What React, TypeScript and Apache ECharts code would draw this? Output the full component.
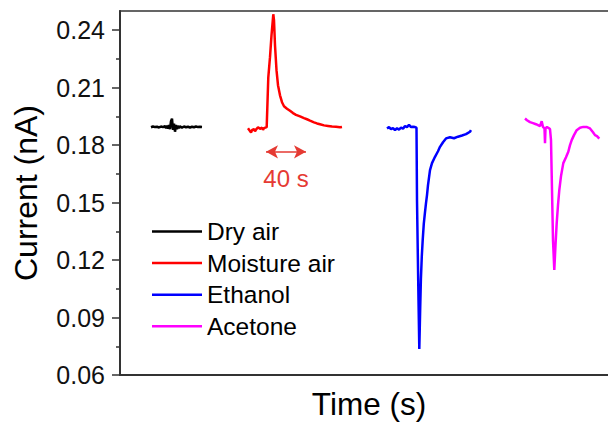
import React, { useEffect, useRef } from "react";
import * as echarts from "echarts";

const seriesNames = ["Dry air", "Moisture air", "Ethanol", "Acetone"];
const seriesColors = ["#000000", "#ff0000", "#0000ff", "#ff00ff"];

const yMajorTicks = [0.06, 0.09, 0.12, 0.15, 0.18, 0.21, 0.24];
const yMinorTicks = [0.075, 0.105, 0.135, 0.165, 0.195, 0.225];

const dryAir: [number, number][] = [
  [31, 0.1893], [33, 0.1897], [35, 0.1894], [37, 0.1896], [39, 0.1892], [41, 0.1897],
  [43, 0.1894], [45, 0.1899], [46, 0.1888], [47, 0.1902], [48, 0.1886], [49, 0.1905],
  [50, 0.1883], [51, 0.1925], [52, 0.1938], [53, 0.1880], [54, 0.1912], [55, 0.1870],
  [56, 0.1905], [57, 0.1884], [58, 0.1901], [59, 0.1889], [60, 0.1898], [62, 0.1891],
  [64, 0.1897], [66, 0.1893], [68, 0.1896], [70, 0.1892], [72, 0.1896], [74, 0.1893],
  [76, 0.1897], [78, 0.1894], [80, 0.1896], [82, 0.1895],
];

const moistureAir: [number, number][] = [
  [128, 0.1888], [130, 0.1873], [131, 0.1866], [132, 0.1878], [134, 0.1884], [135, 0.1872],
  [136, 0.1881], [138, 0.1893], [140, 0.1885], [142, 0.1891], [143, 0.1880], [144, 0.1889],
  [146.7, 0.1894], [148.3, 0.2154], [150, 0.2259], [151.5, 0.2373], [153.3, 0.2483],
  [154, 0.2452], [155, 0.2321], [156.5, 0.2191], [158, 0.2113], [160, 0.2060], [162, 0.2024],
  [164, 0.2003], [167, 0.1990], [170, 0.1979], [173, 0.1967], [176, 0.1958], [180, 0.1950],
  [184, 0.1941], [187, 0.1935], [190, 0.1928], [194, 0.1919], [197, 0.1913], [200, 0.1909],
  [204, 0.1903], [208, 0.1900], [212, 0.1897], [216, 0.1896], [220, 0.1893], [222, 0.1895],
];

const ethanol: [number, number][] = [
  [267, 0.1887], [269, 0.1894], [271, 0.1883], [273, 0.1889], [275, 0.1878], [277, 0.1888],
  [279, 0.1881], [281, 0.1891], [283, 0.1886], [285, 0.1899], [287, 0.1894], [289, 0.1906],
  [291, 0.1894], [293, 0.1896], [295, 0.1894], [296.5, 0.1891], [297, 0.1513], [298.5, 0.0991],
  [299.3, 0.0736], [300.2, 0.0950], [300.9, 0.1100], [301.8, 0.1220], [302.7, 0.1304],
  [303.8, 0.1390], [305, 0.1450], [306, 0.1497], [307, 0.1539], [308, 0.1591], [310, 0.1669],
  [312, 0.1706], [315, 0.1739], [318, 0.1768], [320, 0.1791], [323, 0.1815], [326, 0.1835],
  [330, 0.1841], [334, 0.1836], [338, 0.1844], [342, 0.1850], [346, 0.1857], [350, 0.1870],
  [351, 0.1878],
];

const acetone: [number, number][] = [
  [405, 0.1939], [407, 0.1930], [410, 0.1920], [413, 0.1915], [416, 0.1909], [418, 0.1904],
  [420, 0.1899], [421.7, 0.1925], [423, 0.1894], [424.5, 0.1888], [425, 0.1810], [425.5, 0.1888],
  [427, 0.1894], [429, 0.1888], [430, 0.1883], [431, 0.1826], [432, 0.1565], [433, 0.1304],
  [434.3, 0.1148], [435.5, 0.1278], [436.7, 0.1393], [438, 0.1487], [439.3, 0.1565],
  [441, 0.1638], [443.3, 0.1706], [446, 0.1737], [448.3, 0.1765], [450, 0.1800], [451.7, 0.1826],
  [454, 0.1852], [456.7, 0.1878], [460, 0.1891], [463.3, 0.1895], [467, 0.1894], [470, 0.1887],
  [473, 0.1867], [475, 0.1852], [477, 0.1847], [479.3, 0.1834],
];

const seriesData = [dryAir, moistureAir, ethanol, acetone];

const arrowSpan: [number, number] = [146, 186];
const arrowLevel = 0.1765;
const arrowLabel = "40 s";
const arrowLabelPos: [number, number] = [166, 0.1628];
const annotColor = "#e53a33";

export default function App() {
  const ref = useRef<HTMLDivElement>(null);
  useEffect(() => {
    if (!ref.current) return;
    const chart = echarts.init(ref.current, null, { renderer: "svg" });
    const font = "Liberation Sans, Arial, sans-serif";
    const series: any[] = seriesNames.map((name, i) => ({
      name,
      type: "line",
      data: seriesData[i],
      symbol: "none",
      showSymbol: false,
      lineStyle: { color: seriesColors[i], width: 2.5 },
      itemStyle: { color: seriesColors[i] },
      z: 3,
    }));
    series[1].markLine = {
      silent: true,
      symbol: ["arrow", "arrow"],
      symbolSize: [10, 12],
      lineStyle: { color: annotColor, width: 1.5, type: "solid" },
      label: { show: false },
      data: [[{ coord: [arrowSpan[0], arrowLevel] }, { coord: [arrowSpan[1], arrowLevel] }]],
    };
    series[1].markPoint = {
      silent: true,
      symbol: "circle",
      symbolSize: 0,
      data: [
        {
          coord: arrowLabelPos,
          label: {
            show: true,
            position: "inside",
            formatter: arrowLabel,
            color: annotColor,
            fontSize: 24,
            fontFamily: font,
          },
        },
      ],
    };
    chart.setOption({
      animation: false,
      backgroundColor: "#ffffff",
      grid: {
        left: 120,
        top: 11,
        width: 490,
        height: 364,
        show: true,
        borderColor: "#333",
        borderWidth: 1.5,
        outerBoundsMode: "none",
      },
      legend: {
        orient: "vertical",
        left: 147,
        top: 214,
        icon: "rect",
        itemWidth: 50,
        itemHeight: 2.5,
        itemGap: 6.6,
        data: seriesNames,
        textStyle: { fontSize: 24.5, fontFamily: font, color: "#000", lineHeight: 24 },
      },
      xAxis: {
        type: "value",
        min: 0,
        max: 490,
        name: "Time (s)",
        nameLocation: "middle",
        nameGap: 13,
        nameTextStyle: { fontSize: 31.5, fontFamily: font, color: "#000", padding: [0, 0, 0, 8] },
        axisLine: { show: true, lineStyle: { color: "#333", width: 2 } },
        axisTick: { show: false },
        axisLabel: { show: false },
        splitLine: { show: false },
      },
      yAxis: [
        {
          type: "value",
          min: 0.06,
          max: 0.25,
          interval: 0.03,
          name: "Current (nA)",
          nameLocation: "middle",
          nameGap: 78,
          nameTextStyle: { fontSize: 32, fontFamily: font, color: "#000" },
          axisLine: { show: true, lineStyle: { color: "#333", width: 2 } },
          axisTick: {
            show: true,
            inside: false,
            length: 8,
            customValues: yMajorTicks,
            lineStyle: { color: "#333", width: 1.5 },
          },
          axisLabel: {
            show: true,
            margin: 15,
            customValues: yMajorTicks,
            fontSize: 25,
            fontFamily: font,
            color: "#111",
            formatter: (v: number) => v.toFixed(2),
          },
          splitLine: { show: false },
        },
        {
          type: "value",
          min: 0.06,
          max: 0.25,
          position: "left",
          axisLine: { show: false },
          axisTick: {
            show: true,
            inside: false,
            length: 4,
            customValues: yMinorTicks,
            lineStyle: { color: "#333", width: 1.5 },
          },
          axisLabel: { show: false },
          splitLine: { show: false },
        },
      ],
      series,
    });
    return () => chart.dispose();
  }, []);
  return (
    <div
      ref={ref}
      style={{ position: "absolute", left: 0, top: 0, width: 608, height: 423 }}
    />
  );
}
